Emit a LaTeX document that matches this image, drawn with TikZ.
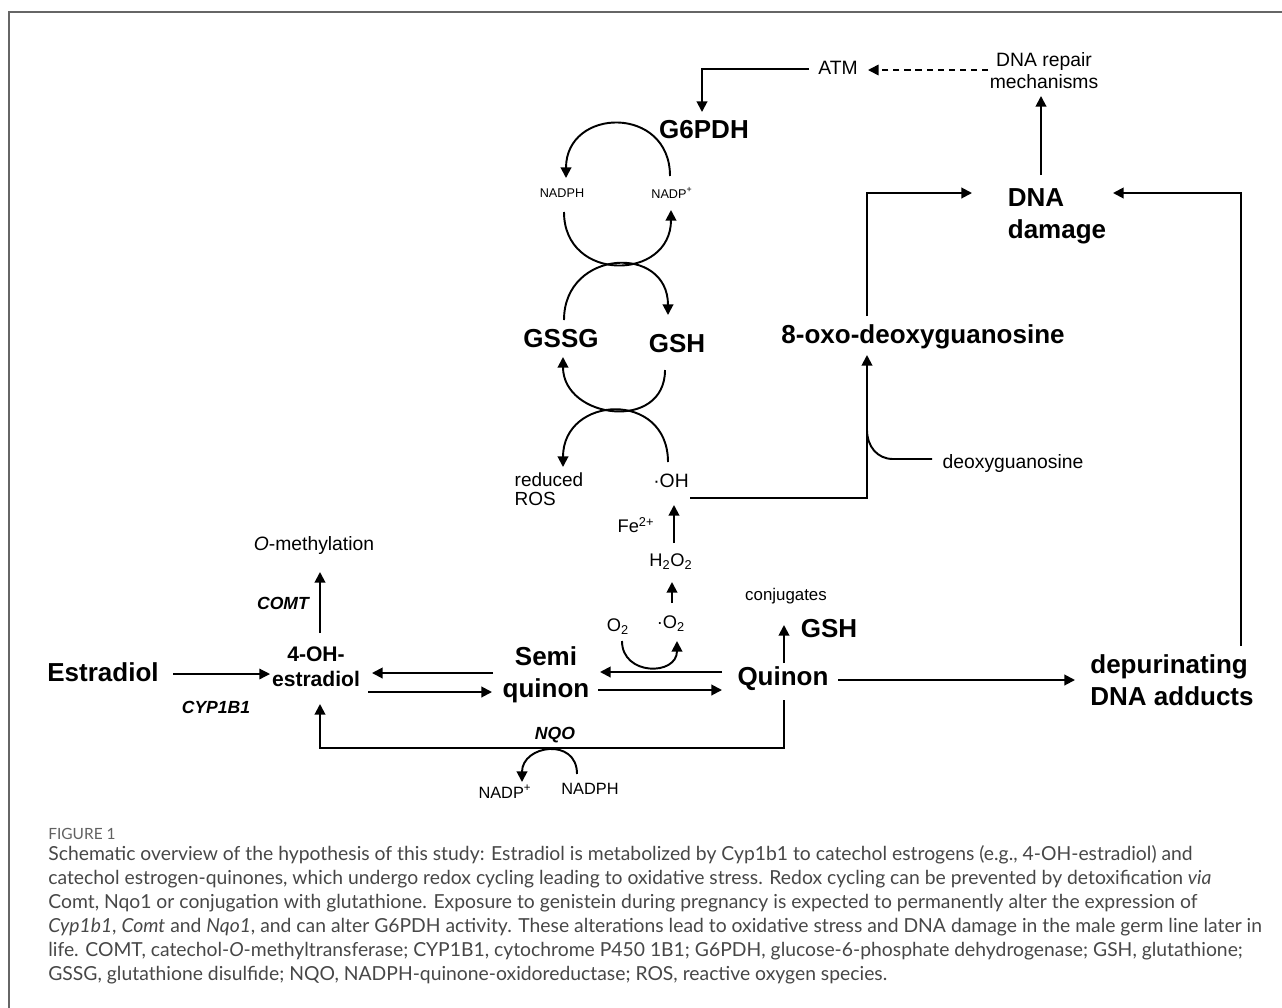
\documentclass[tikz,border=0pt]{standalone}
\usepackage{fontspec}
\setmainfont{Liberation Sans}
\newfontfamily\capfont{Lato}
\usetikzlibrary{arrows.meta,calc}

\begin{document}
\begin{tikzpicture}[x=0.02cm, y=-0.02cm, every node/.style={inner sep=0pt, align=center},
  big/.style={font=\fontsize{14.8}{18.2}\selectfont\bfseries},
  mid/.style={font=\fontsize{11}{12.5}\selectfont},
  sml/.style={font=\fontsize{10.4}{11}\selectfont},
  enz/.style={font=\fontsize{10}{12}\selectfont\bfseries\itshape},
  ar/.style={line width=1.1pt, -{Triangle[length=6pt, width=6pt]}}]
\useasboundingbox (0,0) rectangle (1282,1008);
\draw[line width=1.2pt, black!60] (9,1008) -- (9,12) -- (1282,12);
\foreach \n/\x/\y/\t in {est/103/672/Estradiol, semi/546/675/Semi\\quinon, quin/783/679/Quinon, g6/704/130/G6PDH, gssg/561/339/GSSG, gsh/677/344/GSH, oxo/923/337/8-oxo-deoxyguanosine, gshq/829/629/GSH} { \node[big] (\n) at (\x,\y) {\t}; }
\node[big, align=left] (dep) at (1172,680) {depurinating\\DNA adducts};
\node[big, align=left] (dnad) at (1057,216) {DNA\\damage};
\node[font=\fontsize{12}{14.2}\selectfont\bfseries] (ohe) at (316,667) {4-OH-\\estradiol};
\foreach \n/\x/\y/\t in {ometh/314/545/{\itshape O}-methylation, atm/838/68/ATM, rep/1044/71/DNA repair\\mechanisms, dg/1013/463/deoxyguanosine, oh/671/481/·OH} { \node[mid] (\n) at (\x,\y) {\t}; }
\node[mid, align=left, font=\fontsize{10.8}{11}\selectfont] (red) at (549,489) {reduced\\ROS};
\foreach \n/\x/\y/\t in {fe/636/525/Fe\textsuperscript{2+}, hoo/671/562/H\textsubscript{2}O\textsubscript{2}, osup/671/624/·O\textsubscript{2}, otwo/618/627/O\textsubscript{2}} { \node[sml] (\n) at (\x,\y) {\t}; }
\node[font=\fontsize{9.6}{11}\selectfont] (conj) at (786,596) {conjugates};
\foreach \n/\x/\y/\t in {cyp/216/707/CYP1B1, comt/283/603/COMT, nqo/555/735/NQO} { \node[enz] (\n) at (\x,\y) {\t}; }
\node[font=\fontsize{7.2}{8}\selectfont] (nadph) at (562,193) {NADPH};
\node[font=\fontsize{7.2}{8}\selectfont] (nadp) at (672,193) {NADP\textsuperscript{+}};
\node[font=\fontsize{9.3}{10}\selectfont] (nadpb) at (590,789) {NADPH};
\node[font=\fontsize{9.3}{10}\selectfont] (nadpbp) at (505,792) {NADP\textsuperscript{+}};
\draw[ar, line width=0.7pt] ($(est)+(70,2)$) -- ($(ohe)+(-46,7)$);
\draw[ar] ($(ohe)+(4,-34)$) -- ($(ometh)+(6,27)$);
\draw[ar] ($(semi)+(-53,-2)$) -- ($(ohe)+(56,6)$);
\draw[ar] ($(ohe)+(52,25)$) -- ($(semi)+(-54,17)$);
\draw[ar] ($(quin)+(-61,-7)$) -- ($(semi)+(54,-3)$);
\draw[ar] ($(semi)+(52,15)$) -- ($(quin)+(-61,11)$);
\draw[ar] ($(quin)+(55,1)$) -- ($(dep)+(-97,0)$);
\draw[ar] ($(dep)+(69,-34)$) |- ($(dnad)+(56,-23)$);
\draw[ar] ($(oxo)+(-56,-21)$) |- ($(dnad)+(-85,-23)$);
\draw[ar] ($(dnad)+(-16,-41)$) -- ($(rep)+(-3,25)$);
\draw[ar, line width=0.9pt, dash pattern=on 3.5pt off 2.8pt] ($(rep)+(-56,-1)$) -- ($(atm)+(30,2)$);
\draw[ar] ($(atm)+(-29,1)$) -| ($(g6)+(-2,-18)$);
\draw[ar] ($(nadp)+(-2,-17)$) .. controls +(0,-71) and +(0,-71) .. ($(nadph)+(4,-15)$);
\draw[ar] ($(nadph)+(2,19)$) .. controls +(0,71) and +(0,71) .. ($(nadp)+(-1,17)$);
\draw[ar] ($(gssg)+(3,-19)$) .. controls +(0,-71) and +(0,-71) .. ($(gsh)+(-9,-29)$);
\draw[ar] ($(gsh)+(-12,26)$) .. controls +(0,62) and +(0,62) .. ($(gssg)+(2,18)$);
\draw[ar] ($(oh)+(-3,-19)$) .. controls +(0,-72) and +(0,-72) .. ($(red)+(14,-22)$);
\draw[ar] ($(oh)+(19,17)$) -| ($(oxo)+(-56,18)$);
\draw[line width=1.1pt] ($(dg)+(-81,-4)$) -- ++(-39,0) .. controls +(-16,0) and +(0,16) .. ($(oxo)+(-56,93)$);
\draw[ar] ($(hoo)+(3,-19)$) -- ($(oh)+(3,24)$);
\draw[ar] ($(osup)+(1,-21)$) -- ($(hoo)+(1,20)$);
\draw[ar] ($(otwo)+(4,14)$) .. controls +(0,35) and +(0,35) .. ($(osup)+(6,17)$);
\draw[ar] ($(quin)+(1,-16)$) -- ($(conj)+(-2,29)$);
\draw[ar] ($(quin)+(1,21)$) -- ++(0,48) -| ($(ohe)+(4,37)$);
\draw[ar] ($(nadpb)+(-13,-15)$) .. controls +(0,-37) and +(0,-37) .. ($(nadpbp)+(17,-10)$);
\node[anchor=base west, font=\capfont\fontsize{8.8}{10}\selectfont, text=black!62] (fig) at (48,839) {FIGURE 1};
\node[anchor=north west, align=left, font=\capfont\fontsize{11}{13.66}\selectfont, text=black!72] (cap) at (48,845) {Schematic overview of the hypothesis of this study: Estradiol is metabolized by Cyp1b1 to catechol estrogens (e.g., 4-OH-estradiol) and\\
catechol estrogen-quinones, which undergo redox cycling leading to oxidative stress. Redox cycling can be prevented by detoxification \textit{via}\\
Comt, Nqo1 or conjugation with glutathione. Exposure to genistein during pregnancy is expected to permanently alter the expression of\\
\textit{Cyp1b1}, \textit{Comt} and \textit{Nqo1}, and can alter G6PDH activity. These alterations lead to oxidative stress and DNA damage in the male germ line later in\\
life. COMT, catechol-\textit{O}-methyltransferase; CYP1B1, cytochrome P450 1B1; G6PDH, glucose-6-phosphate dehydrogenase; GSH, glutathione;\\
GSSG, glutathione disulfide; NQO, NADPH-quinone-oxidoreductase; ROS, reactive oxygen species.};
\end{tikzpicture}
\end{document}
